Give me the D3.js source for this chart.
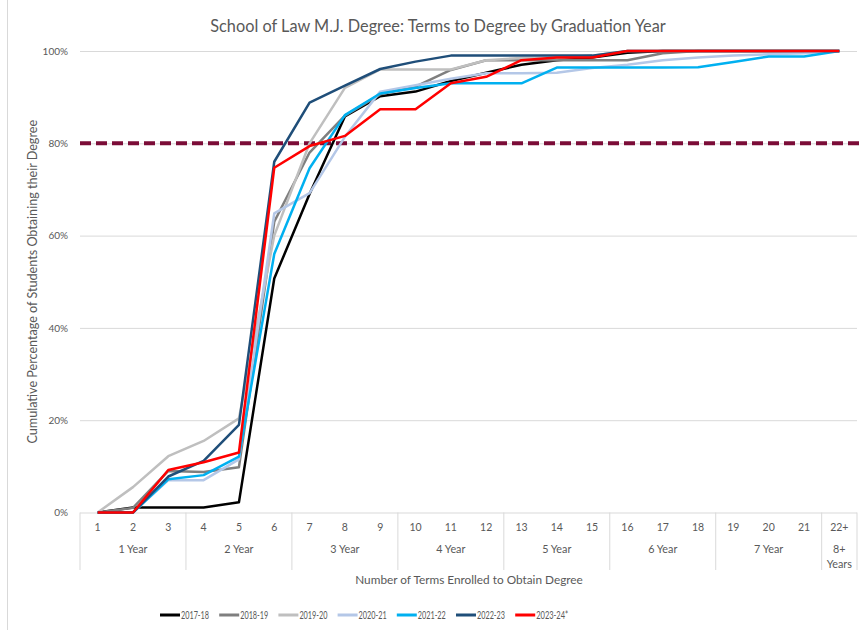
<!DOCTYPE html>
<html>
<head>
<meta charset="utf-8">
<script src="https://cdn.jsdelivr.net/npm/d3@7"></script>
<style>
  body { margin: 0; background: #fff; }
  svg { display: block; font-family: Lato, "Noto Sans", sans-serif; }
</style>
</head>
<body>
<div id="chart"></div>
<script>
// terms to degree, cumulative percent per graduation year
var terms = ["1", "2", "3", "4", "5", "6", "7", "8", "9", "10", "11",
  "12", "13", "14", "15", "16", "17", "18", "19", "20", "21", "22+"];
var groupLabels = [["1 Year"], ["2 Year"], ["3 Year"], ["4 Year"],
  ["5 Year"], ["6 Year"], ["7 Year"], ["8+", "Years"]];
var groupSizes = [3, 3, 3, 3, 3, 3, 3, 1];
var yTicks = [0, 20, 40, 60, 80, 100];
var target = 80;

var seriesNames = ["2017-18", "2018-19", "2019-20", "2020-21", "2021-22", "2022-23", "2023-24*"];
var seriesColors = ["#000000", "#7f7f7f", "#bfbfbf", "#b4c7e7", "#00b0f0", "#1f4e79", "#ff0000"];

var v2017 = [0, 1.1, 1.1, 1.1, 2.2, 50.7, 69, 85.8, 90.2, 91.2, 93.5, 95.3,
  97, 98, 98.6, 99.6, 100, 100, 100, 100, 100, 100];
var v2018 = [0, 1, 9, 8.8, 9.8, 63, 78, 86, 90.6, 92.3, 95.9, 98,
  98, 98, 98, 98, 99.5, 100, 100, 100, 100, 100];
var v2019 = [0, 5.5, 12.2, 15.5, 20.4, 60, 80, 92, 96, 96, 96, 98,
  98.5, 98.5, 99, 100, 100, 100, 100, 100, 100, 100];
var v2020 = [0, 0, 7, 7, 11.5, 64.8, 69.2, 81.4, 91.2, 92.6, 94, 95.2,
  95.2, 95.3, 96.3, 97, 98, 98.6, 99, 99.3, 99.5, 100];
var v2021 = [0, 0, 7.2, 8.1, 12.1, 56, 74.6, 86.1, 90.8, 92, 93, 93,
  93, 96.4, 96.4, 96.4, 96.4, 96.5, 97.6, 98.8, 98.8, 100];
var v2022 = [0, 0, 7.8, 11.2, 19, 76, 88.8, 92.5, 96.1, 97.7, 99, 99,
  99, 99, 99, 100, 100, 100, 100, 100, 100, 100];
var v2023 = [0, 0, 9.2, 10.9, 13, 74.7, 79.4, 81.6, 87.4, 87.4, 93, 94.4,
  98, 98.6, 98.6, 100, 100, 100, 100, 100, 100, 100];

var seriesValues = [v2017, v2018, v2019, v2020, v2021, v2022, v2023];

var W = 862, H = 630,
  plotL = 80, plotR = 857, plotT = 51, plotB = 512.5,
  textColor = "#595959", gridColor = "#d9d9d9";

var svg = d3.select("#chart").append("svg")
  .attr("width", W)
  .attr("height", H);

var defs = svg.append("defs");
defs.append("filter")
  .attr("id", "shadow")
  .attr("x", "-5%").attr("y", "-200%")
  .attr("width", "110%").attr("height", "500%")
  .append("feGaussianBlur")
  .attr("stdDeviation", 1.8);

// chart area border
svg.append("line")
  .attr("x1", 7.5).attr("x2", 7.5)
  .attr("y1", 0).attr("y2", H)
  .attr("stroke", gridColor);

var x = d3.scaleBand().domain(terms).range([plotL, plotR]).padding(0);
var y = d3.scaleLinear().domain([0, 100]).range([plotB, plotT]);
var cx = function (t) { return x(t) + x.bandwidth() / 2; };

// title
svg.append("text")
  .attr("x", 438).attr("y", 32)
  .attr("text-anchor", "middle")
  .attr("fill", textColor)
  .style("font-size", "16.3px")
  .text("School of Law M.J. Degree: Terms to Degree by Graduation Year");

// gridlines and y ticks
var yAxis = d3.axisLeft(y)
  .tickValues(yTicks)
  .tickSize(-(plotR - plotL))
  .tickFormat(function (d) { return d + "%"; });
var gy = svg.append("g")
  .attr("transform", "translate(" + plotL + ",0)")
  .call(yAxis);
gy.select(".domain").remove();
gy.selectAll(".tick line").attr("stroke", gridColor);
gy.selectAll(".tick text")
  .attr("x", -12)
  .attr("fill", textColor)
  .style("font-family", "Lato, 'Noto Sans', sans-serif")
  .style("font-size", "10px");

// y axis title
svg.append("text")
  .attr("transform", "translate(37," + ((plotT + plotB) / 2) + ") rotate(-90)")
  .attr("text-anchor", "middle")
  .attr("fill", textColor)
  .style("font-size", "12.6px")
  .text("Cumulative Percentage of Students Obtaining their Degree");

// x axis: term numbers
var xAxis = svg.append("g");
xAxis.selectAll("text.term")
  .data(terms)
  .enter()
  .append("text")
  .attr("class", "term")
  .attr("x", cx)
  .attr("y", 531)
  .attr("text-anchor", "middle")
  .attr("fill", textColor)
  .style("font-size", "10.5px")
  .text(function (d) { return d; });

// group separators and group labels
var starts = [0];
groupSizes.forEach(function (n, i) { starts.push(starts[i] + n); });
xAxis.selectAll("line.sep")
  .data(starts)
  .enter()
  .append("line")
  .attr("class", "sep")
  .attr("x1", function (s) { return plotL + s * x.bandwidth(); })
  .attr("x2", function (s) { return plotL + s * x.bandwidth(); })
  .attr("y1", plotB)
  .attr("y2", 570)
  .attr("stroke", gridColor);

groupLabels.forEach(function (lines, i) {
  var mid = plotL + (starts[i] + groupSizes[i] / 2) * x.bandwidth();
  lines.forEach(function (ln, j) {
    xAxis.append("text")
      .attr("x", mid)
      .attr("y", 553 + j * 14.5)
      .attr("text-anchor", "middle")
      .attr("fill", textColor)
      .style("font-size", "10.8px")
      .text(ln);
  });
});

svg.append("text")
  .attr("x", 469)
  .attr("y", 584)
  .attr("text-anchor", "middle")
  .attr("fill", textColor)
  .style("font-size", "11.8px")
  .text("Number of Terms Enrolled to Obtain Degree");

// 80% target line with soft shadow
svg.append("line")
  .attr("x1", plotL).attr("x2", plotR + 3)
  .attr("y1", y(target) + 3).attr("y2", y(target) + 3)
  .attr("stroke", "#8c8c8c")
  .attr("stroke-width", 4)
  .attr("stroke-dasharray", "11,5")
  .attr("opacity", 0.6)
  .attr("filter", "url(#shadow)");
svg.append("line")
  .attr("x1", plotL).attr("x2", plotR + 3)
  .attr("y1", y(target)).attr("y2", y(target))
  .attr("stroke", "#7b0c37")
  .attr("stroke-width", 4)
  .attr("stroke-dasharray", "11,5");

// series lines
var line = d3.line()
  .x(function (d, i) { return cx(terms[i]); })
  .y(function (d) { return y(d); });

svg.append("g")
  .selectAll("path")
  .data(seriesValues)
  .enter()
  .append("path")
  .attr("d", line)
  .attr("fill", "none")
  .attr("stroke", function (d, i) { return seriesColors[i]; })
  .attr("stroke-width", 2.5)
  .attr("stroke-linejoin", "round");

// legend
var legend = svg.append("g").attr("transform", "translate(160,615)");
var item = legend.selectAll("g")
  .data(seriesNames)
  .enter()
  .append("g")
  .attr("transform", function (d, i) { return "translate(" + (i * 59.2) + ",0)"; });
item.append("line")
  .attr("x1", 0).attr("x2", 20)
  .attr("stroke", function (d, i) { return seriesColors[i]; })
  .attr("stroke-width", 3);
item.append("text")
  .attr("x", 21)
  .attr("y", 3.5)
  .attr("fill", textColor)
  .style("font-size", "10.5px")
  .attr("textLength", function (d) { return d.length > 7 ? 32 : 28; })
  .attr("lengthAdjust", "spacingAndGlyphs")
  .text(function (d) { return d; });
</script>
</body>
</html>
